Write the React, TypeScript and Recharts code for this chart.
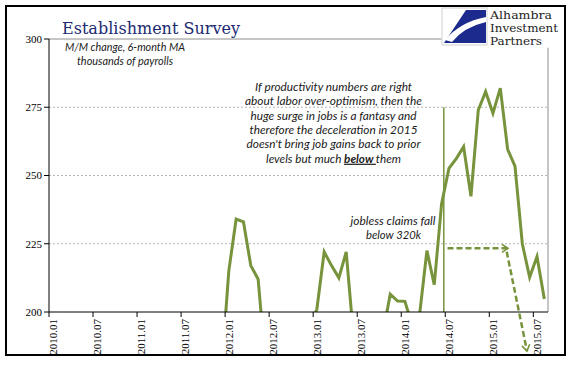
import { LineChart, Line, XAxis, YAxis, ReferenceLine } from "recharts";

// M/M change in payrolls, 6-month MA (thousands); values under 200 sit below the axis floor
const payrolls2010 = [20, 45, 70, 95, 130, 150, 120, 85, 40, 25, 60, 85];
const payrolls2011 = [100, 115, 140, 165, 150, 130, 105, 95, 100, 120, 160, 178];
const payrolls2012 = [215, 234, 233, 217, 212, 181, 172, 168, 170, 176, 186, 195];
const payrolls2013 = [201, 222, 217, 212.5, 222, 191, 183, 180, 186, 192, 206.5, 204];
const payrolls2014 = [203.9, 195, 199, 222.5, 210, 239.7, 252.6, 256.2, 260.5, 242.4, 274, 280.7];
const payrolls2015 = [272.8, 282, 259.6, 253.4, 225, 212.7, 220.3, 204.8];

const tickMonths = [0, 6, 12, 18, 24, 30, 36, 42, 48, 54, 60, 66];
const tickLabels = [
  "2010.01", "2010.07", "2011.01", "2011.07", "2012.01", "2012.07",
  "2013.01", "2013.07", "2014.01", "2014.07", "2015.01", "2015.07",
];
const yTicks = [200, 225, 250, 275, 300];

const noteLines = [
  "If productivity numbers are right",
  "about labor over-optimism, then the",
  "huge surge in jobs is a fantasy and",
  "therefore the deceleration in 2015",
  "doesn't bring job gains back to prior",
];
const noteWidths = [157, 177, 166, 168, 174];

const OLIVE = "#77933C";
const SERIF = "'Liberation Serif', 'Times New Roman', serif";
const SANS = "Lato, 'Noto Sans', sans-serif";

const allValues = [
  ...payrolls2010, ...payrolls2011, ...payrolls2012,
  ...payrolls2013, ...payrolls2014, ...payrolls2015,
];
// each month sits at the centre of its category slot
const chartData = allValues.map((v, i) => ({ x: i + 0.5, v }));

function XTick(props: any) {
  const { x, y, payload } = props;
  const label = tickLabels[tickMonths.indexOf(payload.value)];
  const cx = x + 4;
  return (
    <text
      x={cx} y={y} dy="0.35em"
      transform={`rotate(-90, ${cx}, ${y})`}
      textAnchor="end" fontFamily={SERIF} fontSize={11} fill="#000"
    >
      {label}
    </text>
  );
}

function YTick(props: any) {
  const { x, y, payload } = props;
  return (
    <text x={x} y={y} dy="0.35em" textAnchor="end" fontFamily={SERIF} fontSize={11} fill="#000">
      {payload.value}
    </text>
  );
}

export default function App() {
  return (
    <div style={{ position: "absolute", left: 0, top: 0, width: 577, height: 375, background: "#fff" }}>
      <LineChart
        width={577} height={375} data={chartData}
        margin={{ top: 39, right: 29, bottom: 18, left: 0 }}
      >
        <XAxis
          type="number" dataKey="x" domain={[0, 68]} ticks={tickMonths}
          tick={<XTick />} tickSize={5} tickMargin={2} height={45}
          axisLine={{ stroke: "#000" }} tickLine={{ stroke: "#000" }}
        />
        <YAxis
          domain={[200, 300]} ticks={yTicks} allowDataOverflow
          tick={<YTick />} tickSize={5} tickMargin={2} width={49}
          axisLine={{ stroke: "#000" }} tickLine={{ stroke: "#000" }}
        />
        <ReferenceLine y={225} stroke="#b4b4b4" strokeDasharray="2 2" />
        <ReferenceLine y={250} stroke="#b4b4b4" strokeDasharray="2 2" />
        <ReferenceLine y={275} stroke="#b4b4b4" strokeDasharray="2 2" />
        <ReferenceLine segment={[{ x: 0, y: 300 }, { x: 53.5, y: 300 }]} stroke="#8c8c8c" />
        <ReferenceLine segment={[{ x: 68, y: 296.8 }, { x: 68, y: 200 }]} stroke="#8c8c8c" />
        <ReferenceLine segment={[{ x: 53.8, y: 275 }, { x: 53.8, y: 200 }]} stroke={OLIVE} strokeWidth={1.5} />
        <Line
          type="linear" dataKey="v" stroke={OLIVE} strokeWidth={3}
          dot={false} isAnimationActive={false}
        />
      </LineChart>

      <svg
        width={577} height={375}
        style={{ position: "absolute", left: 0, top: 0, pointerEvents: "none" }}
      >
        <defs>
          <marker id="arrowHead" markerWidth={9} markerHeight={10} refX={7} refY={5}
            orient="auto" markerUnits="userSpaceOnUse">
            <path d="M1,1 L7,5 L1,9" fill="none" stroke={OLIVE} strokeWidth={1.6} />
          </marker>
        </defs>

        {/* title and subtitle */}
        <text x={62} y={34} fontFamily="'DejaVu Serif', serif" fontSize={17} fill="#202a72"
          textLength={178} lengthAdjust="spacingAndGlyphs">
          Establishment Survey
        </text>
        <text x={125} y={50.5} textAnchor="middle" fontFamily={SANS} fontStyle="italic"
          fontSize={10.5} fill="#222" textLength={120} lengthAdjust="spacingAndGlyphs">
          M/M change, 6-month MA
        </text>
        <text x={125} y={64.5} textAnchor="middle" fontFamily={SANS} fontStyle="italic"
          fontSize={10.5} fill="#222" textLength={96} lengthAdjust="spacingAndGlyphs">
          thousands of payrolls
        </text>

        {/* logo */}
        <rect x={442} y={8} width={45} height={37} fill="#fff" stroke="#d0d0d0" />
        <path d="M466,10 L486,10 L486,43 L444,43 Z" fill="#1b2a8c" />
        <path d="M445,40 Q460,22 486,17 L486,22 Q464,27 452,42 Z" fill="#fff" />
        <g fontFamily="'DejaVu Serif', serif" fontSize={11} fill="#222">
          <text x={490} y={18.5} textLength={62} lengthAdjust="spacingAndGlyphs">Alhambra</text>
          <text x={490} y={31.5} textLength={68} lengthAdjust="spacingAndGlyphs">Investment</text>
          <text x={490} y={44.5} textLength={52} lengthAdjust="spacingAndGlyphs">Partners</text>
        </g>

        {/* annotations */}
        <g fontFamily={SANS} fontStyle="italic" fontSize={12} fill="#1a1a1a">
          {noteLines.map((t, i) => (
            <text key={t} x={333.5} y={90.7 + i * 14.4} textAnchor="middle"
              textLength={noteWidths[i]} lengthAdjust="spacingAndGlyphs">
              {t}
            </text>
          ))}
          <text x={333.5} y={162.7} textAnchor="middle" textLength={135} lengthAdjust="spacingAndGlyphs">
            levels but much{" "}
            <tspan fontWeight="bold" style={{ textDecoration: "underline" }}>below </tspan>
            them
          </text>
          <text x={393} y={224.5} textAnchor="middle" textLength={85} lengthAdjust="spacingAndGlyphs">
            jobless claims fall
          </text>
          <text x={393.5} y={239} textAnchor="middle" textLength={55} lengthAdjust="spacingAndGlyphs">
            below 320k
          </text>
        </g>

        <line x1={447.5} y1={248.3} x2={508} y2={248.3} stroke={OLIVE} strokeWidth={2.5}
          strokeDasharray="6 3" markerEnd="url(#arrowHead)" />
        <line x1={506.7} y1={251.7} x2={527} y2={351} stroke={OLIVE} strokeWidth={2.5}
          strokeDasharray="6 3" markerEnd="url(#arrowHead)" />
      </svg>

      <div style={{
        position: "absolute", left: 5, top: 5, width: 561, height: 351,
        border: "2px solid #000", boxSizing: "border-box", pointerEvents: "none",
      }} />
    </div>
  );
}
